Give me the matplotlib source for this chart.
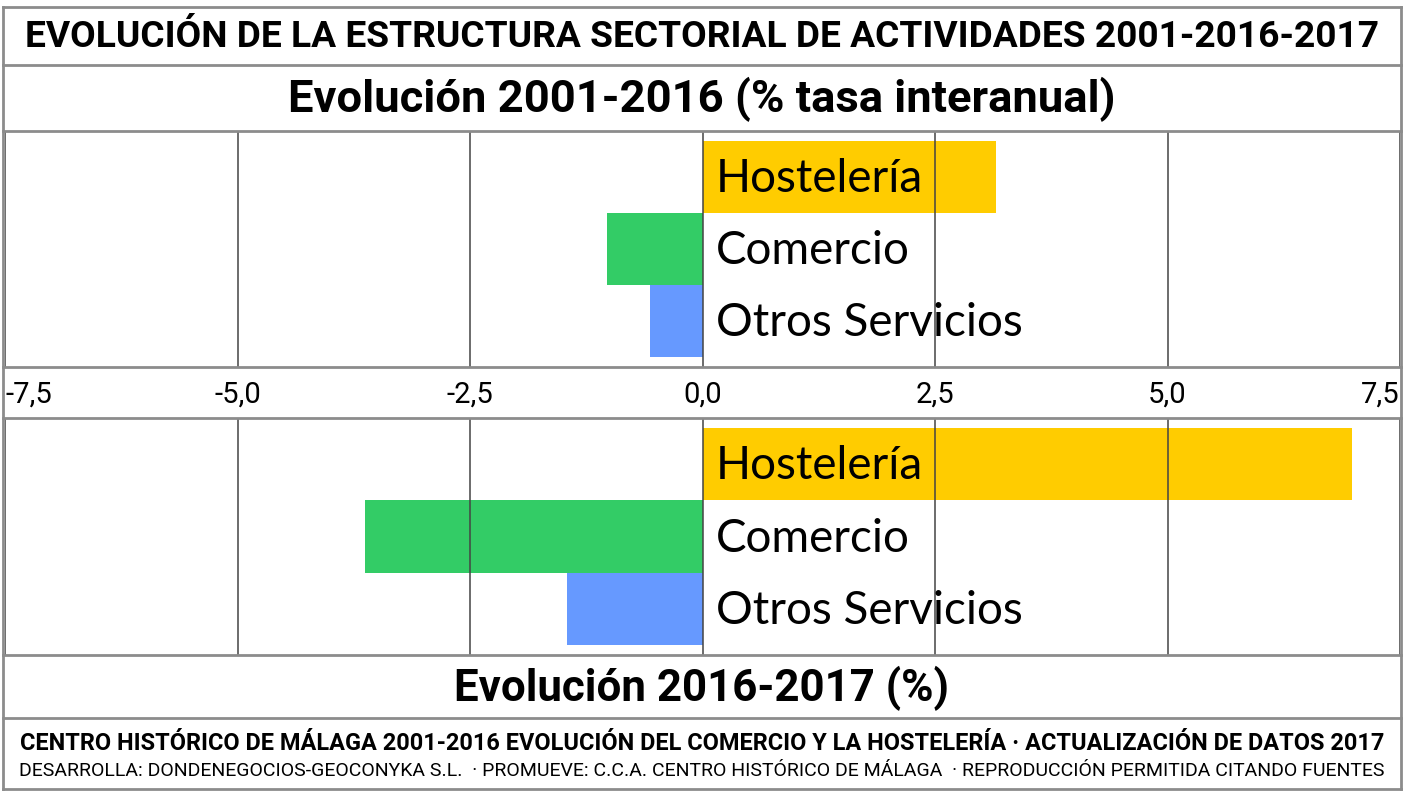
import matplotlib.pyplot as plt
import matplotlib.ticker as mticker
from matplotlib.lines import Line2D

sectores = ['Hostelería', 'Comercio', 'Otros Servicios']
colores = ['#FFCC00', '#33CC66', '#6699FF']
tasa_2001_2016 = [3.16, -1.03, -0.56]
var_2016_2017 = [6.98, -3.63, -1.46]
ticks = [-7.5, -5.0, -2.5, 0.0, 2.5, 5.0, 7.5]

titulo = 'EVOLUCIÓN DE LA ESTRUCTURA SECTORIAL DE ACTIVIDADES 2001-2016-2017'
sub1 = 'Evolución 2001-2016 (% tasa interanual)'
sub2 = 'Evolución 2016-2017 (%)'
pie1 = 'CENTRO HISTÓRICO DE MÁLAGA 2001-2016 EVOLUCIÓN DEL COMERCIO Y LA HOSTELERÍA · ACTUALIZACIÓN DE DATOS 2017'
pie2 = 'DESARROLLA: DONDENEGOCIOS-GEOCONYKA S.L.  · PROMUEVE: C.C.A. CENTRO HISTÓRICO DE MÁLAGA  · REPRODUCCIÓN PERMITIDA CITANDO FUENTES'

W, H = 1404, 792
cond = ['Roboto', 'DejaVu Sans']
plt.rcParams['font.family'] = ['Lato', 'DejaVu Sans']

fig = plt.figure(figsize=(W / 100, H / 100), dpi=100)
fig.patch.set_facecolor('white')
rend = fig.canvas.get_renderer()

def fy(p):
    return 1 - p / H

def fx(p):
    return p / W

def ajustar(t, ancho):
    # escala el tamaño de letra hasta que el texto ocupe 'ancho' píxeles
    w = t.get_window_extent(rend).width
    t.set_fontsize(t.get_fontsize() * ancho / w)

gris = '#8c8c8c'
# marco y separadores
for y in [7, 65, 131, 367, 418, 655, 718, 789]:
    fig.add_artist(Line2D([fx(3), fx(1401)], [fy(y), fy(y)], color=gris, lw=2))
for x in [3, 1401]:
    fig.add_artist(Line2D([fx(x), fx(x)], [fy(7), fy(789)], color=gris, lw=2))

t = fig.text(0.5, fy(37), titulo, ha='center', va='center', fontsize=20,
             fontweight='bold', family=cond)
ajustar(t, 1350)
t = fig.text(0.5, fy(99), sub1, ha='center', va='center', fontsize=20,
             fontweight='bold', family=cond)
ajustar(t, 825)
t = fig.text(0.5, fy(688), sub2, ha='center', va='center', fontsize=20,
             fontweight='bold', family=cond)
ajustar(t, 495)
t = fig.text(0.5, fy(743), pie1, ha='center', va='center', fontsize=12,
             fontweight='bold', family=cond)
ajustar(t, 1362)
t = fig.text(0.5, fy(771), pie2, ha='center', va='center', fontsize=12,
             family=cond)
ajustar(t, 1362)

def panel(top, bottom, valores, con_ticks):
    ax = fig.add_axes([fx(5), fy(bottom), fx(1400) - fx(5), fy(top) - fy(bottom)])
    y = list(range(len(sectores)))
    ax.barh(y, valores, height=1.0, color=colores, zorder=1)
    for yi, nombre in zip(y, sectores):
        ax.text(0.14, yi + 0.03, nombre, ha='left', va='center', fontsize=33,
                color='black', zorder=3)
    ax.set_xlim(-7.5, 7.5)
    ax.set_ylim(2.64, -0.64)
    ax.set_xticks(ticks)
    ax.grid(axis='x', color='#444444', lw=1.1, zorder=2)
    ax.set_axisbelow(False)
    ax.set_yticks([])
    for s in ax.spines.values():
        s.set_visible(False)
    ax.tick_params(axis='x', length=0)
    if con_ticks:
        ax.xaxis.set_major_formatter(mticker.FuncFormatter(
            lambda v, p: f'{v:.1f}'.replace('.', ',')))
        ax.tick_params(axis='x', labelsize=21, pad=10, colors='black')
        labs = ax.get_xticklabels()
        labs[0].set_ha('left')
        labs[-1].set_ha('right')
        for l in labs:
            l.set_family(cond)
    else:
        ax.set_xticklabels([])
    return ax

panel(131, 367, tasa_2001_2016, True)
panel(418, 655, var_2016_2017, False)

fig.savefig('out.png', dpi=100, facecolor='white')
